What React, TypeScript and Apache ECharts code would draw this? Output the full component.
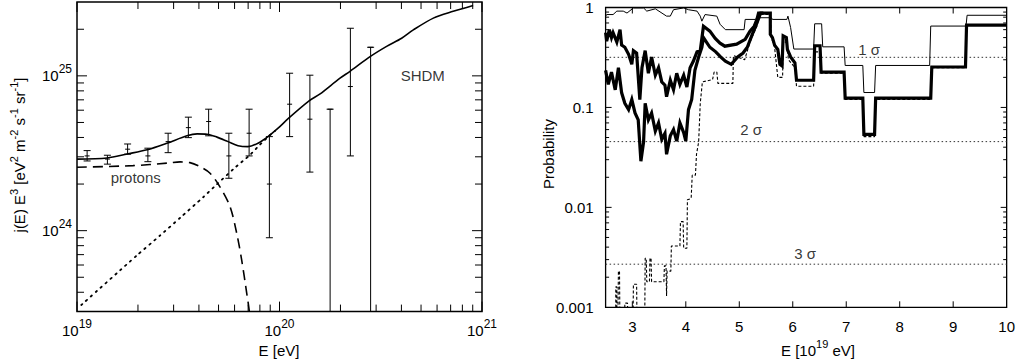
import React, { useEffect, useRef } from 'react';
import * as echarts from 'echarts';

const FONT = '"Liberation Sans", Arial, Helvetica, sans-serif';

// ---------------- Left panel: E^3 j(E) ----------------
const totalFlux: [number, number][] = [
  [1.0e19, 2.9e24], [1.41e19, 2.95e24], [1.77e19, 3.13e24], [2.22e19, 3.33e24],
  [2.78e19, 3.67e24], [3.49e19, 4.1e24], [3.92e19, 4.22e24], [4.39e19, 4.2e24],
  [4.91e19, 4.02e24], [5.57e19, 3.76e24], [6.24e19, 3.54e24], [6.98e19, 3.49e24],
  [7.83e19, 3.67e24], [8.77e19, 4.05e24], [9.84e19, 4.59e24], [1.11e20, 5.33e24],
  [1.4e20, 6.89e24], [1.58e20, 7.62e24], [1.99e20, 9.66e24], [2.23e20, 1.07e25],
  [2.8e20, 1.33e25], [3.38e20, 1.55e25], [4.01e20, 1.75e25], [4.58e20, 1.98e25],
  [5.75e20, 2.36e25], [7.21e20, 2.61e25], [9.04e20, 2.85e25],
];
const protonFlux: [number, number][] = [
  [1.0e19, 2.57e24], [1.89e19, 2.63e24], [2.78e19, 2.73e24], [3.23e19, 2.78e24],
  [3.61e19, 2.75e24], [4.05e19, 2.59e24], [4.54e19, 2.35e24], [5.08e19, 1.92e24],
  [5.7e19, 1.43e24], [6.15e19, 9.6e23], [6.5e19, 6.5e23], [6.89e19, 3.94e23],
  [7.1e19, 2.99e23], [7.23e19, 2.3e23],
];
const shdmFlux: [number, number][] = [
  [1.05e19, 3.31e23], [1.97e19, 6.9e23], [2.57e19, 9.3e23], [3.23e19, 1.21e24],
  [4.21e19, 1.65e24], [4.9e19, 1.99e24], [5.92e19, 2.5e24], [7.14e19, 3.08e24],
  [7.85e19, 3.5e24], [8.9e19, 4.1e24], [9.5e19, 4.4e24],
];
const dataE = [
  1.122e19, 1.413e19, 1.778e19, 2.239e19, 2.818e19, 3.548e19, 4.467e19, 5.623e19,
  7.079e19, 8.913e19, 1.122e20, 1.413e20, 1.778e20, 2.239e20, 2.818e20,
];
const dataJ = [
  3.04e24, 2.9e24, 3.36e24, 3.04e24, 3.76e24, 4.63e24, 5.07e24, 3.04e24,
  4.26e24, 2.0e24, 6.56e24, 5.25e24, 6.09e24, 8.53e24, 1.53e25,
];
const dataHi = [
  3.29e24, 3.07e24, 3.63e24, 3.41e24, 4.26e24, 5.41e24, 6.09e24, 4.26e24,
  6.09e24, 4.05e24, 1.04e25, 1.01e25, 6.09e24, 2.03e25, 1.53e25,
];
// 0 = error bar reaches down to zero (off the log axis)
const dataLo = [
  2.82e24, 2.69e24, 3.12e24, 2.79e24, 3.19e24, 3.99e24, 4.1e24, 2.18e24,
  3.04e24, 9.0e23, 4.05e24, 2.39e24, 0, 3.04e24, 0,
];
const leftTexts = [
  { name: 'SHDM', value: [5.1e20, 1.01e25] },
  { name: 'protons', value: [1.95e19, 2.21e24] },
];
const leftXMajor = [1e19, 1e20, 1e21];
const leftXMinor = [2e19, 3e19, 4e19, 5e19, 6e19, 7e19, 8e19, 9e19, 2e20, 3e20, 4e20, 5e20, 6e20, 7e20, 8e20, 9e20];
const leftYMajor = [1e24, 1e25];
const leftYMinor = [4e23, 5e23, 6e23, 7e23, 8e23, 9e23, 2e24, 3e24, 4e24, 5e24, 6e24, 7e24, 8e24, 9e24, 2e25];

// ---------------- Right panel: Probability ----------------
const probThin: [number, number][] = [
  [2.5, 0.82], [2.52, 0.85], [2.64, 0.85], [2.71, 0.92], [2.83, 0.92], [2.9, 0.88],
  [3.02, 0.99], [3.21, 0.99], [3.27, 0.92], [3.43, 0.97], [3.64, 0.82], [3.71, 0.82],
  [3.77, 0.95], [3.96, 0.99], [4.05, 0.95], [4.21, 0.92], [4.27, 0.82], [4.3, 0.73],
  [4.36, 0.85], [4.58, 0.82], [4.64, 0.68], [4.74, 0.6], [5.09, 0.6], [5.11, 0.76],
  [5.3, 0.76], [5.33, 0.79], [5.6, 0.79], [5.62, 0.76], [5.89, 0.76], [5.91, 0.82],
  [5.96, 0.63], [6.02, 0.384], [6.39, 0.384], [6.41, 0.687], [6.54, 0.687], [6.56, 0.404],
  [6.96, 0.404], [6.98, 0.263], [7.31, 0.263], [7.33, 0.141], [7.53, 0.141], [7.55, 0.263],
  [8.56, 0.263], [8.58, 0.652], [9.24, 0.652], [9.26, 0.836], [10, 0.836],
];
const probThickUpper: [number, number][] = [
  [2.5, 0.56], [2.52, 0.46], [2.57, 0.6], [2.61, 0.5], [2.64, 0.56], [2.71, 0.45],
  [2.77, 0.6], [2.8, 0.42], [2.86, 0.4], [2.93, 0.34], [2.99, 0.27], [3.02, 0.37],
  [3.08, 0.35], [3.14, 0.12], [3.18, 0.25], [3.24, 0.37], [3.3, 0.22], [3.36, 0.32],
  [3.43, 0.21], [3.49, 0.25], [3.55, 0.18], [3.61, 0.167], [3.64, 0.128], [3.71, 0.187],
  [3.77, 0.15], [3.83, 0.22], [3.89, 0.17], [3.96, 0.21], [4.02, 0.16], [4.08, 0.25],
  [4.14, 0.29], [4.21, 0.36], [4.27, 0.37], [4.33, 0.65], [4.45, 0.58], [4.55, 0.49],
  [4.64, 0.44], [4.73, 0.41], [4.95, 0.43], [5.11, 0.48], [5.2, 0.58], [5.28, 0.65],
  [5.33, 0.76], [5.36, 0.88], [5.58, 0.88], [5.58, 0.54], [5.62, 0.5], [5.66, 0.42],
  [5.72, 0.38], [5.76, 0.27], [5.8, 0.26], [5.82, 0.52], [5.88, 0.5], [5.9, 0.38],
  [5.96, 0.32], [6.04, 0.28], [6.07, 0.187], [6.39, 0.187], [6.41, 0.414], [6.51, 0.414],
  [6.53, 0.226], [6.96, 0.226], [6.98, 0.124], [7.31, 0.124], [7.33, 0.0537], [7.53, 0.0537],
  [7.55, 0.124], [8.58, 0.124], [8.6, 0.254], [9.23, 0.254], [9.25, 0.667], [10, 0.667],
];
const probThickLower: [number, number][] = [
  [2.5, 0.235], [2.55, 0.17], [2.61, 0.226], [2.68, 0.15], [2.74, 0.25], [2.8, 0.14],
  [2.86, 0.11], [2.93, 0.095], [2.99, 0.12], [3.05, 0.088], [3.11, 0.075], [3.16, 0.029],
  [3.21, 0.045], [3.24, 0.11], [3.3, 0.075], [3.36, 0.088], [3.43, 0.058], [3.49, 0.07],
  [3.55, 0.048], [3.61, 0.055], [3.64, 0.034], [3.71, 0.052], [3.77, 0.06], [3.83, 0.046],
  [3.89, 0.07], [3.96, 0.056], [4.0, 0.046], [4.05, 0.095], [4.11, 0.12], [4.17, 0.235],
  [4.24, 0.32], [4.3, 0.4], [4.33, 0.5], [4.45, 0.4], [4.56, 0.36], [4.65, 0.32],
  [4.74, 0.29], [4.85, 0.27], [4.97, 0.32], [5.07, 0.35], [5.15, 0.4], [5.25, 0.55],
  [5.33, 0.7], [5.4, 0.88], [5.45, 0.88],
];
const probDashed: [number, number][] = [
  [2.5, 0.0005], [2.69, 0.0005], [2.69, 0.0016], [2.71, 0.0016], [2.71, 0.0008], [2.73, 0.0008],
  [2.74, 0.0023], [2.76, 0.0023], [2.77, 0.0005], [2.85, 0.0005], [2.86, 0.0011], [2.91, 0.0011],
  [2.92, 0.0005], [3.01, 0.0005], [3.02, 0.0017], [3.08, 0.0017], [3.09, 0.0005], [3.23, 0.0005],
  [3.24, 0.0031], [3.26, 0.0031], [3.27, 0.0018], [3.32, 0.0018], [3.33, 0.0031], [3.35, 0.0031],
  [3.36, 0.0018], [3.59, 0.0018], [3.6, 0.0026], [3.63, 0.0026], [3.64, 0.0013], [3.65, 0.0023],
  [3.72, 0.0023], [3.73, 0.0041], [3.89, 0.0041], [3.9, 0.0072], [3.95, 0.0072], [3.96, 0.0039],
  [4.02, 0.0039], [4.03, 0.0119], [4.1, 0.0123], [4.12, 0.021], [4.18, 0.021], [4.2, 0.034],
  [4.24, 0.045], [4.27, 0.11], [4.31, 0.18], [4.5, 0.19], [4.53, 0.226], [4.58, 0.226],
  [4.6, 0.174], [4.88, 0.174], [4.89, 0.33], [5.1, 0.3], [5.2, 0.45], [5.33, 0.65],
  [5.38, 0.85], [5.58, 0.85], [5.6, 0.5], [5.66, 0.4], [5.72, 0.2], [5.81, 0.2],
  [5.82, 0.45], [5.88, 0.45], [5.92, 0.3], [6.04, 0.25], [6.07, 0.163], [6.39, 0.163],
  [6.41, 0.36], [6.51, 0.36], [6.53, 0.22], [6.96, 0.22], [6.98, 0.12], [7.31, 0.12],
  [7.33, 0.051], [7.53, 0.051], [7.55, 0.12], [8.58, 0.12], [8.6, 0.25], [9.23, 0.25],
  [9.25, 0.66], [10, 0.66],
];
const sigmaLevels = [0.3173, 0.0455, 0.0027];
const sigmaTexts = [
  { name: '1 σ', value: [7.43, 0.384] },
  { name: '2 σ', value: [5.22, 0.0602] },
  { name: '3 σ', value: [6.23, 0.00343] },
];
const rightXRange = [2.5, 10];
const rightXLabels = [3, 4, 5, 6, 7, 8, 9, 10];
const rightXMajor = [3, 4, 5, 6, 7, 8, 9];
const rightYMajor = [0.01, 0.1];
const rightYMinor = [
  0.002, 0.003, 0.004, 0.005, 0.006, 0.007, 0.008, 0.009,
  0.02, 0.03, 0.04, 0.05, 0.06, 0.07, 0.08, 0.09,
  0.2, 0.3, 0.4, 0.5, 0.6, 0.7, 0.8, 0.9,
];

function tickData(xs: number[], ys: number[], refX: number, refY: number, len: number) {
  return [
    ...xs.map((v) => [v, refY, 0, len]),
    ...ys.map((v) => [refX, v, 1, len]),
  ];
}

function tickRender(params: any, api: any) {
  const cs = params.coordSys;
  const kind = api.value(2);
  const len = api.value(3);
  const st = { stroke: '#000', lineWidth: 1 };
  if (kind === 0) {
    const px = api.coord([api.value(0), api.value(1)])[0];
    return {
      type: 'group',
      children: [
        { type: 'line', shape: { x1: px, y1: cs.y + cs.height, x2: px, y2: cs.y + cs.height - len }, style: st },
        { type: 'line', shape: { x1: px, y1: cs.y, x2: px, y2: cs.y + len }, style: st },
      ],
    };
  }
  const py = api.coord([api.value(0), api.value(1)])[1];
  return {
    type: 'group',
    children: [
      { type: 'line', shape: { x1: cs.x, y1: py, x2: cs.x + len, y2: py }, style: st },
      { type: 'line', shape: { x1: cs.x + cs.width, y1: py, x2: cs.x + cs.width - len, y2: py }, style: st },
    ],
  };
}

const powLabel = (v: number) => {
  const l = Math.log10(v);
  const r = Math.round(l);
  if (Math.abs(l - r) > 1e-6) return '';
  return `{b|10}{s|${r}}`;
};
const probLabel = (v: number) => {
  const l = Math.log10(v);
  const r = Math.round(l);
  if (Math.abs(l - r) > 1e-6) return '';
  return r >= 0 ? '1' : Math.pow(10, r).toFixed(-r);
};

const richPow = {
  b: { fontSize: 15, fontFamily: FONT, color: '#000' },
  s: { fontSize: 12, fontFamily: FONT, color: '#000', padding: [0, 0, 14, 0] },
};

export default function App() {
  const ref = useRef<HTMLDivElement>(null);
  useEffect(() => {
    if (!ref.current) return;
    const chart = echarts.init(ref.current, null, { renderer: 'svg' });
    const sigmaSeries = sigmaLevels.map((v) => ({
      type: 'line', xAxisIndex: 1, yAxisIndex: 1, symbol: 'none', silent: true,
      data: [[rightXRange[0], v], [rightXRange[1], v]],
      lineStyle: { color: '#333', width: 1, type: [1.5, 2.5] },
    }));
    const option: any = {
      animation: false,
      backgroundColor: '#fff',
      grid: [
        { left: 77, top: 2, width: 405, height: 309.6, show: true, borderColor: '#000', borderWidth: 1.5, backgroundColor: 'transparent' },
        { left: 605.6, top: 2.8, width: 401.4, height: 304.5, show: true, borderColor: '#000', borderWidth: 1.3, backgroundColor: 'transparent' },
      ],
      xAxis: [
        {
          type: 'log', logBase: 10, gridIndex: 0, min: 1e19, max: 1e21,
          axisLine: { show: false }, axisTick: { show: false }, splitLine: { show: false },
          axisLabel: { formatter: powLabel, rich: richPow, margin: 6 },
        },
        {
          type: 'value', gridIndex: 1, min: rightXRange[0], max: rightXRange[1],
          axisLine: { show: false }, axisTick: { show: false }, splitLine: { show: false },
          axisLabel: { customValues: rightXLabels, fontSize: 15, fontFamily: FONT, color: '#000', margin: 12 },
        },
      ],
      yAxis: [
        {
          type: 'log', logBase: 10, gridIndex: 0, min: 3e23, max: 3e25,
          axisLine: { show: false }, axisTick: { show: false }, splitLine: { show: false },
          axisLabel: { formatter: powLabel, rich: richPow, margin: 5, showMinLabel: false, showMaxLabel: false },
        },
        {
          type: 'log', logBase: 10, gridIndex: 1, min: 0.001, max: 1,
          axisLine: { show: false }, axisTick: { show: false }, splitLine: { show: false },
          axisLabel: { formatter: probLabel, fontSize: 15, fontFamily: FONT, color: '#000', margin: 12 },
        },
      ],
      series: [
        // left panel
        {
          type: 'custom', xAxisIndex: 0, yAxisIndex: 0, silent: true,
          dimensions: ['x', 'y', 'k', 'len'], encode: { x: 0, y: 1 },
          data: [
            ...tickData(leftXMajor, leftYMajor, 1e20, 1e24, 10),
            ...tickData(leftXMinor, leftYMinor, 1e20, 1e24, 7),
          ],
          renderItem: tickRender,
        },
        {
          type: 'line', xAxisIndex: 0, yAxisIndex: 0, data: shdmFlux, symbol: 'none', smooth: 0.2,
          lineStyle: { color: '#000', width: 1.8, type: [1.5, 5], cap: 'round' }, silent: true,
        },
        {
          type: 'line', xAxisIndex: 0, yAxisIndex: 0, data: protonFlux, symbol: 'none', smooth: 0.3,
          lineStyle: { color: '#000', width: 1.6, type: [10, 6] }, silent: true,
        },
        {
          type: 'line', xAxisIndex: 0, yAxisIndex: 0, data: totalFlux, symbol: 'none', smooth: 0.3,
          lineStyle: { color: '#000', width: 1.6 }, silent: true,
        },
        {
          type: 'custom', xAxisIndex: 0, yAxisIndex: 0, silent: true,
          dimensions: ['x', 'y', 'hi', 'lo'], encode: { x: 0, y: 1 },
          data: dataE.map((e, i) => [e, dataJ[i], dataHi[i], dataLo[i]]),
          renderItem: (params: any, api: any) => {
            const cs = params.coordSys;
            const x = api.value(0);
            const c = api.coord([x, api.value(1)]);
            const hi = api.coord([x, api.value(2)]);
            const loV = api.value(3);
            const yLo = loV > 0 ? api.coord([x, loV])[1] : cs.y + cs.height;
            const px = c[0];
            const st = { stroke: '#000', lineWidth: 1 };
            const ch: any[] = [
              { type: 'line', shape: { x1: px, y1: hi[1], x2: px, y2: yLo }, style: st },
              { type: 'line', shape: { x1: px - 3.5, y1: hi[1], x2: px + 3.5, y2: hi[1] }, style: st },
              { type: 'line', shape: { x1: px - 2.5, y1: c[1], x2: px + 2.5, y2: c[1] }, style: st },
            ];
            if (loV > 0) ch.push({ type: 'line', shape: { x1: px - 3.5, y1: yLo, x2: px + 3.5, y2: yLo }, style: st });
            return { type: 'group', children: ch };
          },
        },
        {
          type: 'scatter', xAxisIndex: 0, yAxisIndex: 0, data: leftTexts, symbolSize: 0, silent: true,
          label: { show: true, position: 'inside', formatter: '{b}', fontSize: 15, fontFamily: FONT, color: '#000' },
        },
        // right panel
        {
          type: 'custom', xAxisIndex: 1, yAxisIndex: 1, silent: true,
          dimensions: ['x', 'y', 'k', 'len'], encode: { x: 0, y: 1 },
          data: [
            ...tickData(rightXMajor, rightYMajor, 5, 0.1, 6),
            ...tickData([], rightYMinor, 5, 0.1, 3.5),
          ],
          renderItem: tickRender,
        },
        ...sigmaSeries,
        {
          type: 'line', xAxisIndex: 1, yAxisIndex: 1, data: probDashed, symbol: 'none',
          lineStyle: { color: '#000', width: 1.1, type: [3, 2] }, silent: true,
        },
        {
          type: 'line', xAxisIndex: 1, yAxisIndex: 1, data: probThin, symbol: 'none',
          lineStyle: { color: '#000', width: 1 }, silent: true,
        },
        {
          type: 'line', xAxisIndex: 1, yAxisIndex: 1, data: probThickLower, symbol: 'none',
          lineStyle: { color: '#000', width: 3.2, join: 'miter' }, silent: true,
        },
        {
          type: 'line', xAxisIndex: 1, yAxisIndex: 1, data: probThickUpper, symbol: 'none',
          lineStyle: { color: '#000', width: 3.2, join: 'miter' }, silent: true,
        },
        {
          type: 'scatter', xAxisIndex: 1, yAxisIndex: 1, data: sigmaTexts, symbolSize: 0, silent: true,
          label: { show: true, position: 'inside', formatter: '{b}', fontSize: 15, fontFamily: FONT, color: '#000' },
        },
      ],
      graphic: [
        {
          type: 'text', x: 19, y: 155, rotation: Math.PI / 2, silent: true,
          style: {
            text: 'j(E) E{s|3} [eV{s|2} m{s|-2} s{s|-1} sr{s|-1}]',
            fontSize: 15, fontFamily: FONT, fill: '#000', align: 'center', verticalAlign: 'middle',
            rich: { s: { fontSize: 11, fontFamily: FONT, fill: '#000', padding: [0, 0, 10, 0] } },
          },
        },
        {
          type: 'text', x: 279, y: 350, silent: true,
          style: { text: 'E [eV]', fontSize: 15, fontFamily: FONT, fill: '#000', align: 'center', verticalAlign: 'middle' },
        },
        {
          type: 'text', x: 548, y: 154, rotation: Math.PI / 2, silent: true,
          style: { text: 'Probability', fontSize: 15, fontFamily: FONT, fill: '#000', align: 'center', verticalAlign: 'middle' },
        },
        {
          type: 'text', x: 818, y: 350, silent: true,
          style: {
            text: 'E [10{s|19} eV]', fontSize: 15, fontFamily: FONT, fill: '#000', align: 'center', verticalAlign: 'middle',
            rich: { s: { fontSize: 11, fontFamily: FONT, fill: '#000', padding: [0, 0, 12, 0] } },
          },
        },
      ],
    };
    chart.setOption(option);
    return () => chart.dispose();
  }, []);
  return (
    <div
      ref={ref}
      style={{ position: 'fixed', left: 0, top: 0, width: 1018, height: 364, background: '#fff' }}
    />
  );
}
